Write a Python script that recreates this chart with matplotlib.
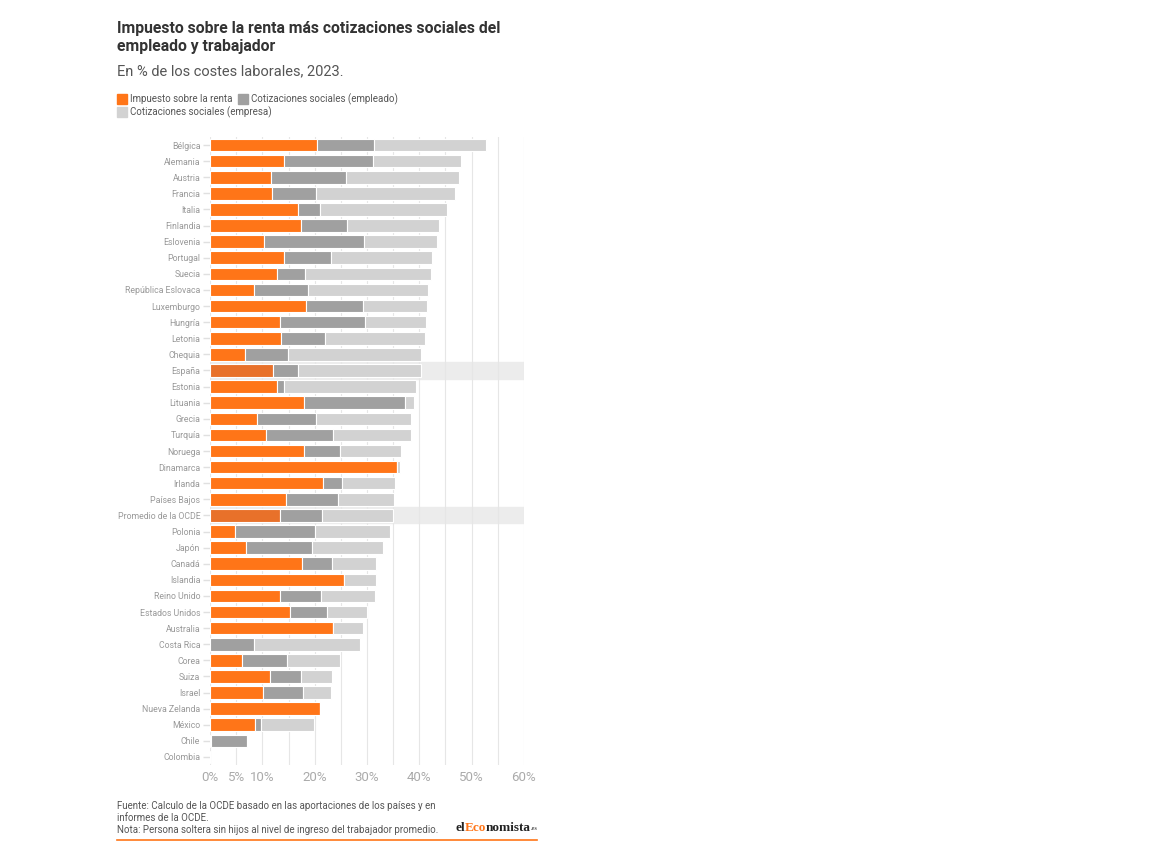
import numpy as np
import matplotlib
matplotlib.use("Agg")
import matplotlib.pyplot as plt
from matplotlib.patches import Rectangle
from matplotlib.lines import Line2D

plt.rcParams['font.family'] = ['Roboto', 'DejaVu Sans']

paises = ["Bélgica", "Alemania", "Austria", "Francia", "Italia", "Finlandia",
          "Eslovenia", "Portugal", "Suecia", "República Eslovaca", "Luxemburgo",
          "Hungría", "Letonia", "Chequia", "España", "Estonia", "Lituania",
          "Grecia", "Turquía", "Noruega", "Dinamarca", "Irlanda", "Países Bajos",
          "Promedio de la OCDE", "Polonia", "Japón", "Canadá", "Islandia",
          "Reino Unido", "Estados Unidos", "Australia", "Costa Rica", "Corea",
          "Suiza", "Israel", "Nueva Zelanda", "México", "Chile", "Colombia"]

# componentes del impuesto en % de los costes laborales
impuesto_renta = [20.4, 14.1, 11.7, 11.9, 16.8, 17.4, 10.3, 14.1, 12.8, 8.4,
                  18.3, 13.3, 13.5, 6.7, 12.0, 12.8, 18.0, 8.9, 10.7, 17.9,
                  35.7, 21.6, 14.5, 13.3, 4.8, 6.8, 17.6, 25.6, 13.3, 15.3,
                  23.5, 0.0, 6.2, 11.4, 10.1, 21.1, 8.6, 0.2, 0.0]
cot_empleado = [11.0, 17.1, 14.2, 8.3, 4.2, 8.7, 19.1, 9.0, 5.4, 10.3,
                10.9, 16.4, 8.5, 8.2, 4.9, 1.3, 19.2, 11.4, 12.8, 6.9,
                0.0, 3.6, 9.9, 8.1, 15.3, 12.7, 5.8, 0.0, 8.0, 7.1,
                0.0, 8.5, 8.5, 6.0, 7.7, 0.0, 1.1, 6.9, 0.0]
cot_empresa = [21.3, 16.8, 21.7, 26.7, 24.2, 17.6, 14.0, 19.3, 24.0, 23.0,
               12.2, 11.5, 19.1, 25.4, 23.4, 25.3, 1.8, 18.2, 15.0, 11.7,
               0.7, 10.1, 10.7, 13.5, 14.2, 13.6, 8.4, 6.1, 10.2, 7.6,
               5.8, 20.2, 10.1, 6.0, 5.4, 0.0, 10.2, 0.0, 0.0]
destacados = ["España", "Promedio de la OCDE"]

ticks = [0, 5, 10, 20, 30, 40, 50, 60]
ticklabels = ["0%", "5%", "10%", "20%", "30%", "40%", "50%", "60%"]

naranja = "#ff7518"
naranja_osc = "#e8712a"
gris = "#a0a0a0"
gris_claro = "#d2d2d2"

fig = plt.figure(figsize=(11.52, 8.51), dpi=100)
ax = fig.add_axes([210 / 1152, 1 - 765 / 851, 314 / 1152, 628 / 851])

y = np.arange(len(paises))
ir = np.array(impuesto_renta)
ce = np.array(cot_empleado)
cs = np.array(cot_empresa)

for i, p in enumerate(paises):
    if p in destacados:
        ax.axhspan(i - 0.5, i + 0.5, xmin=0, xmax=1, color="#ececec", zorder=0)

col_ir = [naranja_osc if p in destacados else naranja for p in paises]
kw = dict(height=0.78, edgecolor="white", linewidth=0.8, zorder=3)
ax.barh(y, ir, color=col_ir, **kw)
ax.barh(y, ce, left=ir, color=gris, **kw)
ax.barh(y, cs, left=ir + ce, color=gris_claro, **kw)

ax.set_xlim(0, 60)
ax.set_ylim(len(paises) - 0.5, -0.5)
ax.set_xticks(np.arange(0, 61, 5), minor=True)
ax.set_xticks(ticks)
ax.set_xticklabels(ticklabels, fontsize=9.5, color="#aaaaaa")
ax.grid(axis="x", which="both", color="#e6e6e6", linewidth=0.8, zorder=0)
ax.set_axisbelow(True)
ax.set_yticks(y)
ax.set_yticklabels(paises, fontsize=6.3, color="#999999")
ax.tick_params(axis="y", length=5, color="#e0e0e0", width=1, pad=2)
ax.tick_params(axis="x", which="both", length=0, pad=4)
for s in ax.spines.values():
    s.set_visible(False)

# titulos
fig.text(117 / 1152, 1 - 28 / 851, "Impuesto sobre la renta más cotizaciones sociales del",
         fontsize=11.3, fontweight="bold", color="#333333", va="center")
fig.text(117 / 1152, 1 - 47 / 851, "empleado y trabajador",
         fontsize=11.3, fontweight="bold", color="#333333", va="center")
fig.text(117 / 1152, 1 - 71 / 851, "En % de los costes laborales, 2023.",
         fontsize=10.5, color="#555555", va="center")

# leyenda
leyenda = [(117, 99, naranja, "Impuesto sobre la renta"),
           (238, 99, gris, "Cotizaciones sociales (empleado)"),
           (117, 112, gris_claro, "Cotizaciones sociales (empresa)")]
for x0, y0, c, t in leyenda:
    fig.patches.append(Rectangle((x0 / 1152, 1 - (y0 + 5) / 851), 10 / 1152, 10 / 851,
                                 transform=fig.transFigure, color=c, figure=fig))
    fig.text((x0 + 13) / 1152, 1 - y0 / 851, t, fontsize=7.0, color="#555555", va="center")

# pie
pie = ["Fuente: Calculo de la OCDE basado en las aportaciones de los países y en",
       "informes de la OCDE.",
       "Nota: Persona soltera sin hijos al nivel de ingreso del trabajador promedio."]
for k, t in enumerate(pie):
    fig.text(117 / 1152, 1 - (806 + 12 * k) / 851, t, fontsize=7.0, color="#555555", va="center")

lx, ly = 455 / 1152, 1 - 828 / 851
for txt, c, fs in [("el", "#222222", 9.5), ("Eco", naranja, 9.5), ("nomista", "#222222", 9.5), (".es", "#555555", 4.5)]:
    t = fig.text(lx, ly, txt, fontsize=fs, fontweight="bold", color=c,
                 family="Liberation Serif", va="center")
    fig.canvas.draw()
    bb = t.get_window_extent()
    lx += bb.width / 1152

fig.lines.append(Line2D([117 / 1152, 537 / 1152], [1 - 840 / 851] * 2,
                        transform=fig.transFigure, color=naranja, linewidth=1.2))

fig.savefig("out.png", dpi=100)
